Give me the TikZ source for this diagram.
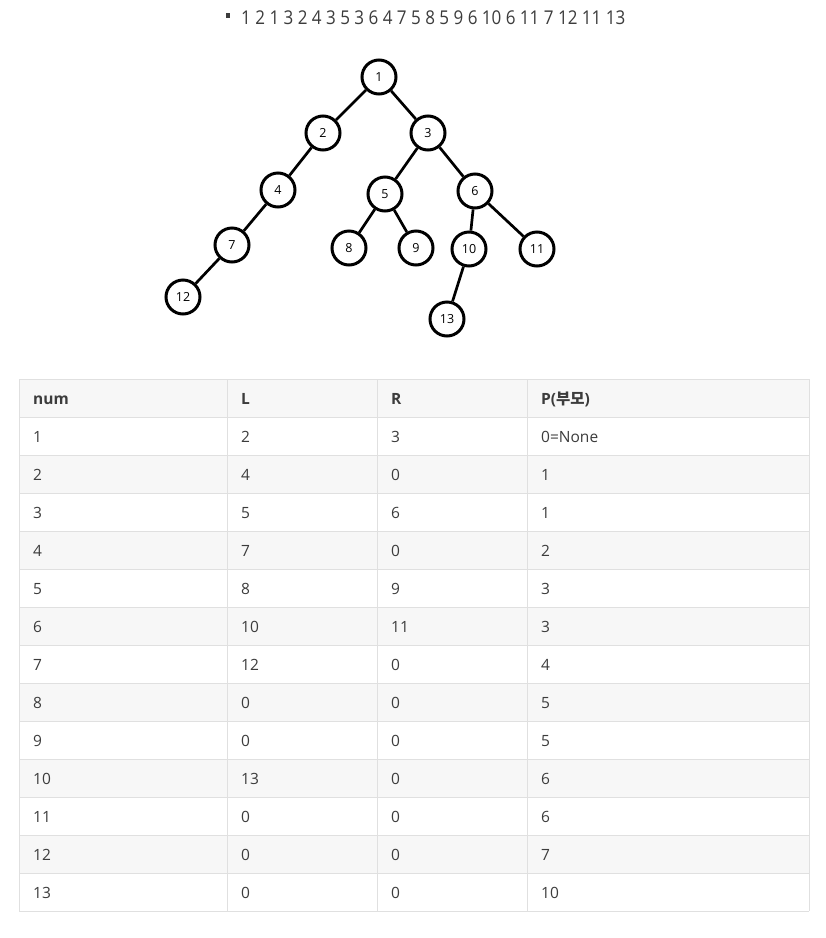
\documentclass[tikz,border=0pt]{standalone}
\usepackage{fontspec}
\usepackage{graphicx}
\setmainfont{Open Sans}
\newfontfamily\krfont{Noto Sans CJK KR}
\definecolor{txt}{HTML}{3C3C3C}
\definecolor{rowbg}{HTML}{F7F7F7}
\definecolor{gridc}{HTML}{E0E0E0}
\begin{document}
\begin{tikzpicture}[x=1pt,y=-1pt,
  tnode/.style={circle,draw=black,line width=3pt,minimum size=34pt,inner sep=0pt,font=\fontsize{12.5}{12.5}\selectfont},
  tedge/.style={line width=2.7pt},
  cell/.style={anchor=base west,inner sep=0pt,text=txt,font=\fontsize{15.5}{18}\selectfont},
  hcell/.style={cell,font=\fontsize{15.5}{18}\selectfont\bfseries},
  gridline/.style={draw=gridc,line width=1pt},
]
\useasboundingbox[fill=white] (0,0) rectangle (826,938);

% sequence line
\node[fill=txt,minimum size=4.5pt,inner sep=0pt] (bul) at (228,15.5) {};
\node[anchor=base west,inner sep=0pt,text=txt,font=\fontsize{19}{20}\selectfont] (seq) at (241,24.5)
  {\resizebox{384pt}{\height}{1 2 1 3 2 4 3 5 3 6 4 7 5 8 5 9 6 10 6 11 7 12 11 13}};

% tree
\node[tnode] (n1) at (379,77) {1};
\node[tnode] (n2) at (323,133) {2};
\node[tnode] (n3) at (428,133) {3};
\node[tnode] (n4) at (278,190) {4};
\node[tnode] (n5) at (385,194) {5};
\node[tnode] (n6) at (475,191) {6};
\node[tnode] (n7) at (232,245) {7};
\node[tnode] (n8) at (349,248) {8};
\node[tnode] (n9) at (416,248) {9};
\node[tnode] (n10) at (469,249) {10};
\node[tnode] (n11) at (537,249) {11};
\node[tnode] (n12) at (183,297) {12};
\node[tnode] (n13) at (447,319) {13};
\draw[tedge] (n1) -- (n2);
\draw[tedge] (n1) -- (n3);
\draw[tedge] (n2) -- (n4);
\draw[tedge] (n3) -- (n5);
\draw[tedge] (n3) -- (n6);
\draw[tedge] (n4) -- (n7);
\draw[tedge] (n7) -- (n12);
\draw[tedge] (n5) -- (n8);
\draw[tedge] (n5) -- (n9);
\draw[tedge] (n6) -- (n10);
\draw[tedge] (n6) -- (n11);
\draw[tedge] (n10) -- (n13);

% table backgrounds
\foreach \k in {0,2,...,12} {
  \fill[rowbg] (19,{379+38*\k}) rectangle (809,{417+38*\k});
}
% grid
\foreach \k in {0,...,14} {
  \draw[gridline] (19,{379+38*\k}) -- (809,{379+38*\k});
}
\foreach \xx in {19,227,377,527,809} {
  \draw[gridline] (\xx,379) -- (\xx,911);
}
% header
\node[hcell] (h1) at (33,404) {num};
\node[hcell] (h2) at (241,404) {L};
\node[hcell] (h3) at (391,404) {R};
\node[hcell] (h4) at (541,404) {P({\krfont\bfseries 부모})};
% rows
\foreach \a/\b/\c/\d [count=\k] in {1/2/3/0=None,2/4/0/1,3/5/6/1,4/7/0/2,5/8/9/3,6/10/11/3,7/12/0/4,8/0/0/5,9/0/0/5,10/13/0/6,11/0/0/6,12/0/0/7,13/0/0/10} {
  \node[cell] (r\k a) at (33,{404+38*\k}) {\a};
  \node[cell] (r\k b) at (241,{404+38*\k}) {\b};
  \node[cell] (r\k c) at (391,{404+38*\k}) {\c};
  \node[cell] (r\k d) at (541,{404+38*\k}) {\d};
}
\end{tikzpicture}
\end{document}
